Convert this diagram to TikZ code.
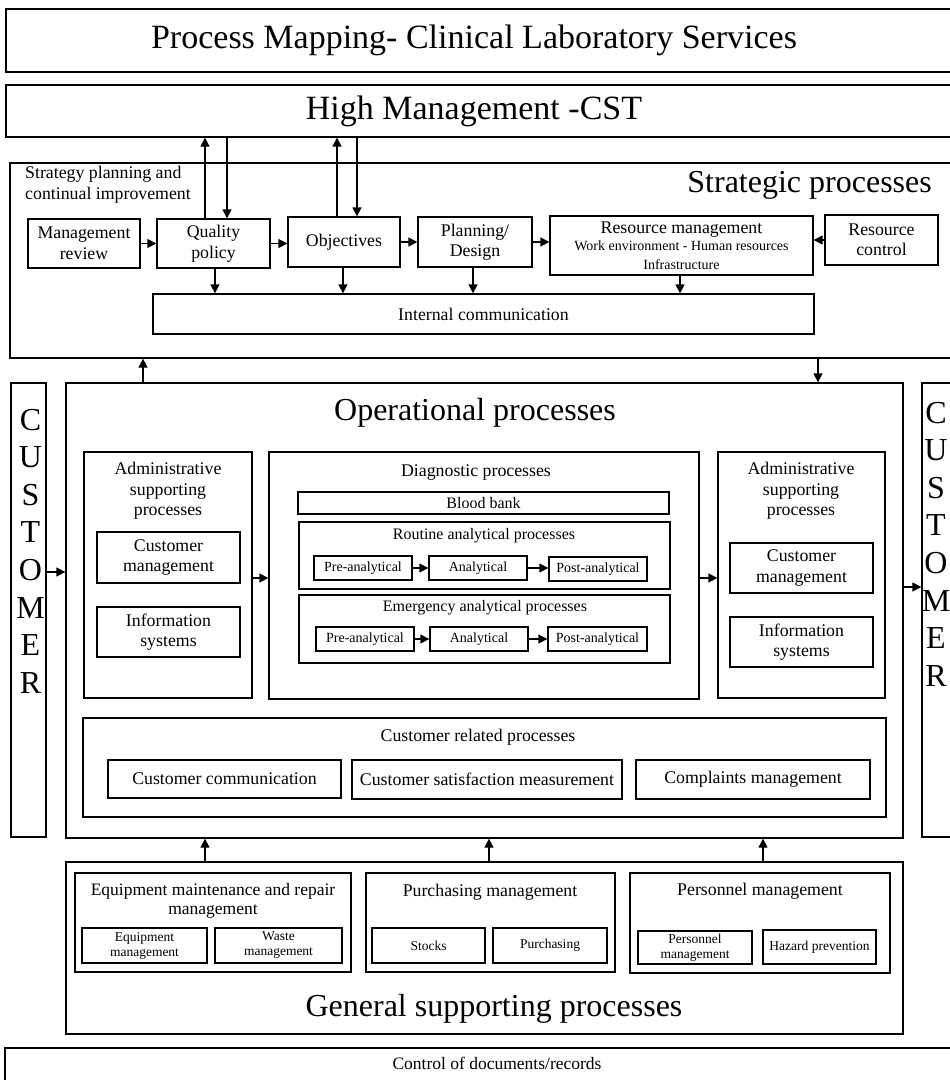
\documentclass[tikz,border=0pt]{standalone}
\usepackage{fontspec}
\setmainfont{Liberation Serif}
\usetikzlibrary{arrows.meta}

\newcommand\fbig{\fontsize{32}{36}\selectfont}
\newcommand\fhead{\fontsize{34}{38}\selectfont}
\newcommand\fmid{\fontsize{17.8}{20.5}\selectfont}
\newcommand\fsm{\fontsize{14}{16}\selectfont}
\newcommand\ftiny{\fontsize{13.5}{15}\selectfont}

\tikzset{
  box/.style={draw, line width=1.3pt, inner sep=0pt, align=center, font=\fmid},
  lbl/.style={inner sep=0pt, align=center, font=\fmid},
  arr/.style={line width=1.3pt, -{Triangle[length=9pt,width=9pt]}},
}

% rectangle node from its top-left (x1,y1) to bottom-right (x2,y2)
\newcommand\bx[6][]{\node[box,#1,minimum width={(#5)-(#3)},minimum height={(#6)-(#4)}] (#2) at ({((#3)+(#5))/2},{((#4)+(#6))/2})}

\begin{document}
\begin{tikzpicture}[x=1pt,y=-1pt]
\useasboundingbox (0,0) rectangle (950,1080);

% ---------- header ----------
\bx{title}{6}{9}{960}{72} {};
\node[lbl, font=\fhead] (titlet) at (474,40) {Process Mapping- Clinical Laboratory Services};
\bx{hm}{6}{85}{960}{137} {};
\node[lbl, font=\fhead] (hmt) at (474,111) {High Management -CST};

% ---------- strategic processes ----------
\bx{strat}{10}{163}{960}{358} {};
\node[lbl, align=left, anchor=north west] (spc) at (25,166) {Strategy planning and\\continual improvement};
\node[lbl, font=\fbig, anchor=base east] (stt) at (932,192) {Strategic processes};

\bx{mr}{28}{219}{140}{268} {Management\\review};
\bx{qp}{157}{219}{270}{268} {Quality\\policy};
\bx{obj}{288}{217}{400}{267} {Objectives};
\bx{pd}{418}{217}{532}{267} {Planning/\\Design};
\bx{rm}{550}{216}{813}{275} {Resource management\\[-3pt]{\fsm Work environment - Human resources}\\[-2pt]{\fsm Infrastructure}};
\bx{rc}{825}{215}{938}{265} {Resource\\control};
\bx{ic}{153}{294}{814}{334} {Internal communication};

\draw[arr] (mr.east) -- (qp.west);
\draw[arr] (qp.east) -- (qp.east -| obj.west);
\draw[arr] (obj.east) -- (pd.west);
\draw[arr] (pd.east) -- (pd.east -| rm.west);
\draw[arr] (rc.west) -- (rc.west -| rm.east);

\coordinate (xqu) at (205,0);
\coordinate (xqd) at (227,0);
\coordinate (xou) at (337,0);
\coordinate (xod) at (357,0);
\draw[arr] (qp.north -| xqu) -- (hm.south -| xqu);
\draw[arr] (hm.south -| xqd) -- (qp.north -| xqd);
\draw[arr] (obj.north -| xou) -- (hm.south -| xou);
\draw[arr] (hm.south -| xod) -- (obj.north -| xod);

\coordinate (xq2) at (215,0);
\coordinate (xo2) at (343,0);
\coordinate (xp2) at (473,0);
\coordinate (xr2) at (680,0);
\draw[arr] (qp.south -| xq2) -- (ic.north -| xq2);
\draw[arr] (obj.south -| xo2) -- (ic.north -| xo2);
\draw[arr] (pd.south -| xp2) -- (ic.north -| xp2);
\draw[arr] (rm.south -| xr2) -- (ic.north -| xr2);

% ---------- customer columns and operational processes ----------
\bx{custL}{11}{383}{46}{837} {};
\bx{custR}{922}{383}{965}{837} {};
\node[lbl, font=\fontsize{32}{37.6}\selectfont] (custLt) at (30.5,551) {C\\U\\S\\T\\O\\M\\E\\R};
\node[lbl, font=\fontsize{32}{37.6}\selectfont] (custRt) at (936,544) {C\\U\\S\\T\\O\\M\\E\\R};

\bx{ops}{66}{383}{903}{838} {};
\node[lbl, font=\fbig, anchor=base] (opst) at (475,420) {Operational processes};

\coordinate (xs1) at (143,0);
\coordinate (xs2) at (818,0);
\draw[arr] (ops.north -| xs1) -- (strat.south -| xs1);
\draw[arr] (strat.south -| xs2) -- (ops.north -| xs2);

\coordinate (yc1) at (0,572);
\coordinate (yc2) at (0,587);
\draw[arr] (custL.east |- yc1) -- (ops.west |- yc1);
\draw[arr] (ops.east |- yc2) -- (custR.west |- yc2);

% left administrative block
\bx{admL}{84}{452}{252}{698} {};
\node[lbl] (admLt) at (168,491) {Administrative\\supporting\\processes};
\bx{cmL}{97}{532}{240}{583} {Customer\\management};
\bx{isL}{97}{607}{240}{657} {Information\\systems};

% diagnostic block
\bx{diag}{269}{452}{699}{699} {};
\node[lbl] (diagt) at (476,473) {Diagnostic processes};
\bx[font=\fontsize{16}{18}\selectfont]{bb}{298}{492}{669}{514} {Blood bank};

\bx{rout}{299}{522}{670}{589} {};
\node[lbl, font=\fontsize{16}{18}\selectfont] (routt) at (484,536) {Routine analytical processes};
\bx[font=\fsm]{rpre}{314}{556}{412}{580} {Pre-analytical};
\bx[font=\fsm]{rana}{429}{556}{527}{580} {Analytical};
\bx[font=\fsm]{rpost}{549}{557}{647}{581} {Post-analytical};
\draw[arr] (rpre.east) -- (rana.west);
\draw[arr] (rana.east) -- (rana.east -| rpost.west);

\bx{emer}{299}{595}{670}{663} {};
\node[lbl, font=\fontsize{16}{18}\selectfont] (emert) at (485,608) {Emergency analytical processes};
\bx[font=\fsm]{epre}{316}{627}{414}{651} {Pre-analytical};
\bx[font=\fsm]{eana}{430}{627}{528}{651} {Analytical};
\bx[font=\fsm]{epost}{548}{627}{647}{651} {Post-analytical};
\draw[arr] (epre.east) -- (eana.west);
\draw[arr] (eana.east) -- (epost.west);

% right administrative block
\bx{admR}{718}{452}{885}{698} {};
\node[lbl] (admRt) at (801,491) {Administrative\\supporting\\processes};
\bx{cmR}{730}{543}{873}{593} {Customer\\management};
\bx{isR}{730}{617}{873}{667} {Information\\systems};

\coordinate (ya) at (0,578);
\draw[arr] (admL.east |- ya) -- (diag.west |- ya);
\draw[arr] (diag.east |- ya) -- (admR.west |- ya);

% customer related processes
\bx{crel}{83}{718}{886}{817} {};
\node[lbl] (crelt) at (478,737) {Customer related processes};
\bx{cc}{108}{760}{341}{798} {Customer communication};
\bx{csm}{352}{760}{622}{799} {Customer satisfaction measurement};
\bx{cpm}{636}{760}{870}{799} {Complaints management};

% ---------- general supporting processes ----------
\bx{gen}{66}{862}{903}{1034} {};
\node[lbl, font=\fbig, anchor=base] (gent) at (494,1016) {General supporting processes};

\coordinate (xg1) at (205,0);
\coordinate (xg2) at (489,0);
\coordinate (xg3) at (763,0);
\draw[arr] (gen.north -| xg1) -- (ops.south -| xg1);
\draw[arr] (gen.north -| xg2) -- (ops.south -| xg2);
\draw[arr] (gen.north -| xg3) -- (ops.south -| xg3);

\bx{eq}{75}{873}{351}{972} {};
\node[lbl, font=\fontsize{17.5}{19}\selectfont] (eqt) at (213,901) {Equipment maintenance and repair\\management};
\bx[font=\ftiny]{eqm}{82}{928}{207}{963} {Equipment\\management};
\bx[font=\ftiny]{wm}{215}{928}{342}{963} {Waste\\management};

\bx{pur}{366}{873}{615}{972} {};
\node[lbl] (purt) at (490,892) {Purchasing management};
\bx[font=\ftiny]{stk}{372}{928}{485}{963} {Stocks};
\bx[font=\ftiny]{prc}{493}{928}{607}{963} {Purchasing};

\bx{per}{630}{873}{890}{973} {};
\node[lbl] (pert) at (760,891) {Personnel management};
\bx[font=\ftiny]{pm}{638}{931}{752}{964} {Personnel\\management};
\bx[font=\ftiny]{hz}{763}{930}{876}{964} {Hazard prevention};

% ---------- document control ----------
\bx{ctrl}{5}{1048}{960}{1100} {};
\node[lbl, font=\fontsize{17.5}{19}\selectfont] (ctrlt) at (497,1063) {Control of documents/records};

\end{tikzpicture}
\end{document}
